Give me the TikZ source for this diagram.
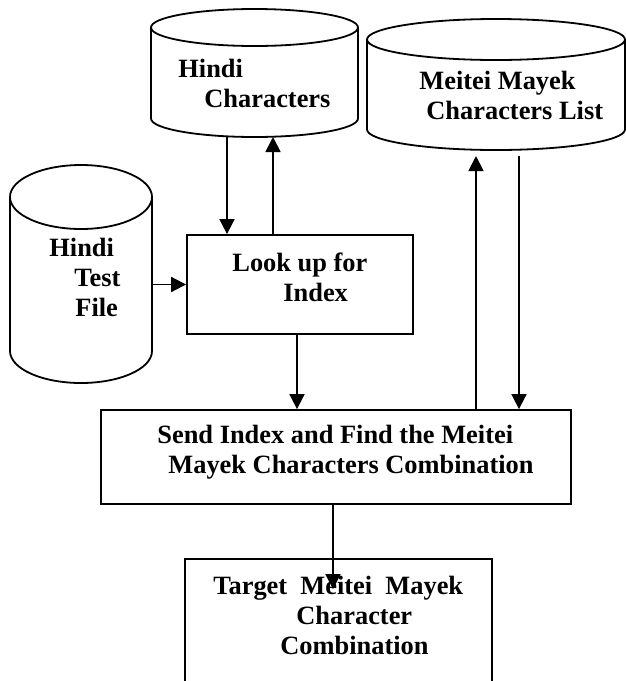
\documentclass[tikz,border=0pt]{standalone}
\usepackage{fontspec}
\setmainfont{Liberation Serif}
\usetikzlibrary{shapes.geometric, arrows.meta, positioning, calc}

\tikzset{
    db/.style={rectangle, inner sep=0pt, outer sep=0pt},
    box/.style={draw, rectangle, line width=0.9pt, inner sep=0pt},
    txt/.style={align=left, anchor=west, inner sep=0pt, font=\bfseries\fontsize{13.2}{15}\selectfont},
    arr/.style={-{Triangle[length=7.5pt,width=7.5pt]}, line width=0.9pt},
}

% outline of a drum round a named node: name, radius of the end ellipses
\newcommand{\drawdb}[2]{%
    \draw[line width=0.9pt] let \p1=(#1.north west), \p2=(#1.south east), \n1={(\x2-\x1)/2} in
        (\x1,\y1-#2) -- (\x1,\y2+#2) arc[start angle=180, end angle=360, x radius=\n1, y radius=#2]
        -- (\x2,\y1-#2) arc[start angle=0, end angle=180, x radius=\n1, y radius=#2]
        arc[start angle=180, end angle=360, x radius=\n1, y radius=#2];
}

\begin{document}
\begin{tikzpicture}[x=0.5pt, y=-0.5pt]
        \clip (0,0) rectangle (626,681);

        \node[db, minimum width=103.5pt, minimum height=64pt] (hchar) at (254.5,73) {};
        \node[db, minimum width=129pt, minimum height=65.5pt] (mlist) at (496,84.5) {};
        \node[db, minimum width=71pt, minimum height=109pt] (hfile) at (81,274) {};
        \node[box, minimum width=113pt, minimum height=49.5pt] (lookup) at (300,284.5) {};
        \node[box, minimum width=235pt, minimum height=47pt] (send) at (336,457) {};
        \node[box, minimum width=153.5pt, minimum height=80pt] (target) at (338.5,639) {};

        \drawdb{hchar}{9.25pt}
        \drawdb{mlist}{10.25pt}
        \drawdb{hfile}{16pt}

        % texts
        \node[txt] (hchartext) at (178,83) {Hindi\\\hspace*{13pt}Characters};
        \node[txt] (mlisttext) at (419,95) {Meitei Mayek\\\hspace*{3.5pt}Characters List};
        \node[txt] (hfiletext) at (49,277) {Hindi\\\hspace*{12.5pt}Test\\\hspace*{13pt}File};
        \node[txt] (lookuptext) at (232,277) {Look up for\\\hspace*{25.5pt}Index};
        \node[txt] (sendtext) at (157,452) {Send Index and Find the Meitei\\\hspace*{5.5pt}Mayek Characters Combination};
        \node[txt] (targettext) at (213,615) {Target~~Meitei~~Mayek\\\hspace*{41.5pt}Character\\\hspace*{33.5pt}Combination};

        \draw[arr] ([xshift=-13.75pt]hchar.south) -- ([xshift=-13.75pt]hchar.south |- lookup.north);
        \draw[arr] ([xshift=9.25pt]hchar.south |- lookup.north) -- ([xshift=9.25pt]hchar.south);
        \draw[arr] (lookup.west -| hfile.east) -- (lookup.west);
        \draw[arr] ([xshift=-1.5pt]lookup.south) -- ([xshift=-1.5pt]lookup.south |- send.north);
        \draw[arr, shorten >=3pt] ([xshift=-10pt]mlist.south |- send.north) -- ([xshift=-10pt]mlist.south);
        \draw[arr, shorten <=3pt] ([xshift=11.5pt]mlist.south) -- ([xshift=11.5pt]mlist.south |- send.north);
        \draw[arr] ([xshift=-1.5pt]send.south) -- ([xshift=-1.5pt,yshift=-15.5pt]send.south |- target.north);
\end{tikzpicture}
\end{document}
